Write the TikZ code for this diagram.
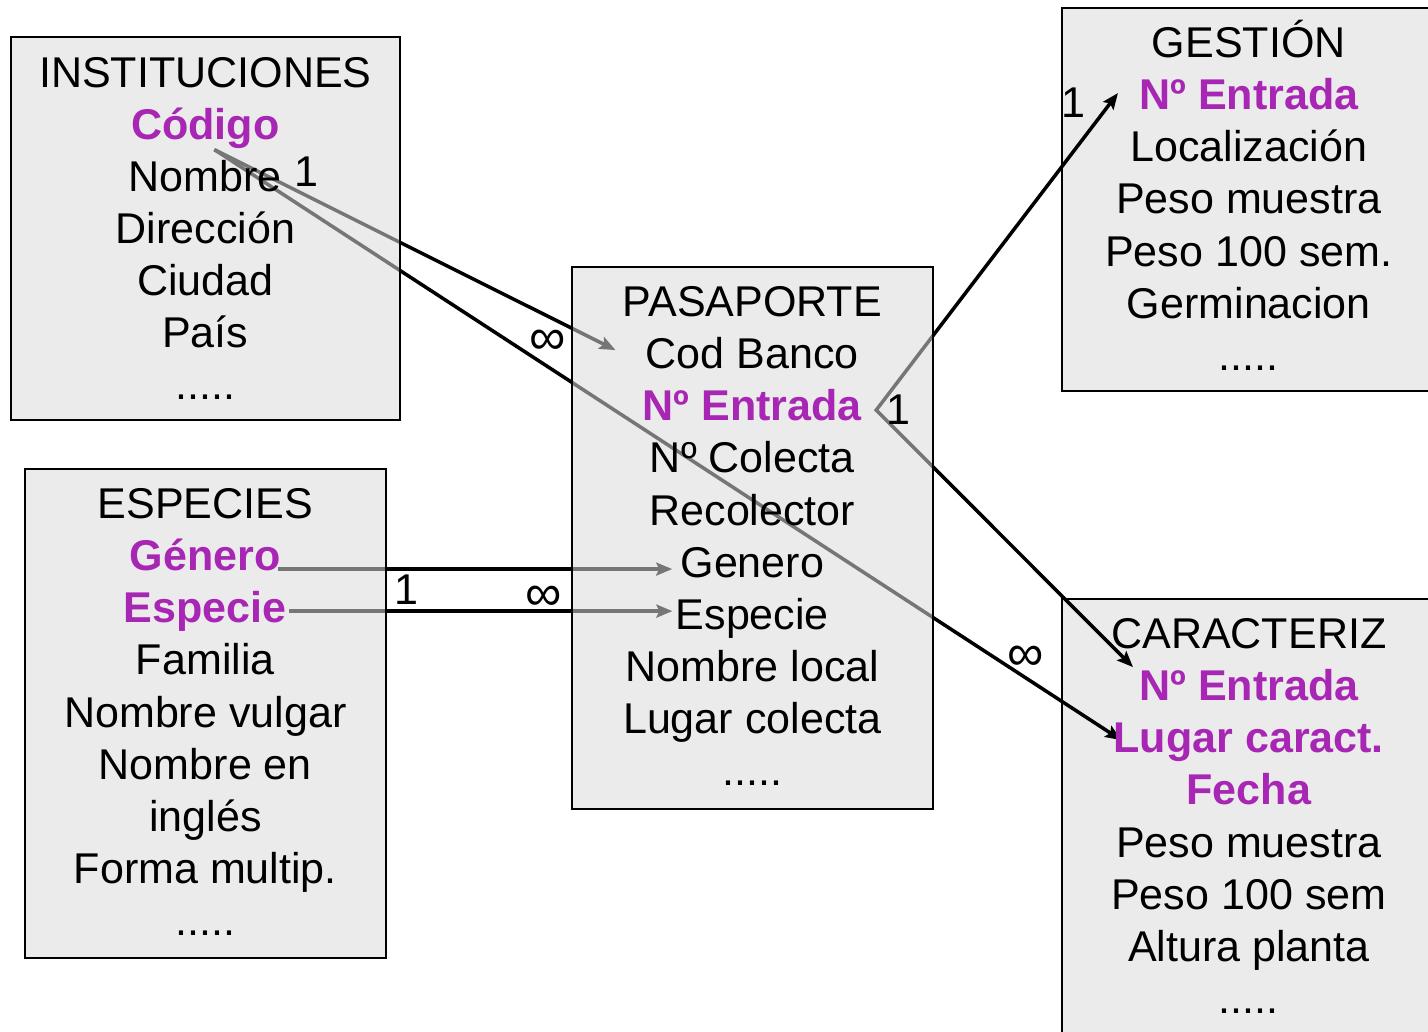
\documentclass[tikz,border=0pt]{standalone}
\usepackage{fontspec}
\setmainfont{Liberation Sans}
\usetikzlibrary{arrows.meta, positioning, calc}
\definecolor{keypurple}{RGB}{168,38,180}
\definecolor{boxgray}{RGB}{218,218,218}
\definecolor{solidgray}{RGB}{235,235,235}
\pgfdeclarelayer{back}
\pgfdeclarelayer{lines}
\pgfsetlayers{back,lines,main}
\tikzset{%
	table box/.style={
		draw,
		line width=1pt,
		fill=boxgray,
		fill opacity=0.545,
		anchor=north west,
		inner sep=0pt
	},
	side box/.style={
		draw,
		line width=1pt,
		fill=solidgray,
		anchor=north west,
		inner sep=0pt
	},
	row/.style={
		inner sep=0pt,
		text height=0.83cm,
		text depth=0.197cm,
		font=\fontsize{24.5pt}{29pt}\selectfont
	},
	key/.style={
		row,
		text=keypurple,
		font=\fontsize{24.5pt}{29pt}\selectfont\bfseries
	},
	count/.style={
		inner sep=0pt,
		font=\fontsize{24.5pt}{29pt}\selectfont
	},
	many/.style={
		inner sep=0pt,
		font=\fontsize{29pt}{32pt}\selectfont
	},
	link/.style={line width=2pt},
	>={Stealth[length=0.32cm,width=0.26cm,inset=0.06cm]}
}

\begin{document}
\begin{tikzpicture}[x=0.02cm, y=-0.02cm]
			\useasboundingbox (0,0) rectangle (1428,1032);
			
			% Tables on the right, the links run over them
			\begin{pgfonlayer}{back}
				\node[side box, minimum width=7.48cm, minimum height=7.66cm] (gest) at (1061,7) {};
				\node[side box, minimum width=7.48cm, minimum height=10cm] (car) at (1061,598) {};
			\end{pgfonlayer}
			
			% Tables on the left, the links show through them
			\node[table box, minimum width=7.78cm, minimum height=7.66cm] (inst) at (10,36) {};
			\node[table box, minimum width=7.22cm, minimum height=9.78cm] (esp) at (24,468) {};
			\node[table box, minimum width=7.22cm, minimum height=10.84cm] (pas) at (571,266) {};
			
			% INSTITUCIONES
			\node[row, below=0.19cm of inst.north] (inst0) {INSTITUCIONES};
			\node[key, below=0pt of inst0] (codigo) {Código};
			\node[row, below=0pt of codigo] (inst2) {Nombre};
			\node[row, below=0pt of inst2] (inst3) {Dirección};
			\node[row, below=0pt of inst3] (inst4) {Ciudad};
			\node[row, below=0pt of inst4] (inst5) {País};
			\node[row, below=0pt of inst5] (inst6) {.....};
			
			% ESPECIES
			\node[row, below=0.18cm of esp.north] (esp0) {ESPECIES};
			\node[key, below=0pt of esp0] (genesp) {Género};
			\node[key, below=0pt of genesp] (spesp) {Especie};
			\node[row, below=0pt of spesp] (esp3) {Familia};
			\node[row, below=0pt of esp3] (esp4) {Nombre vulgar};
			\node[row, below=0pt of esp4] (esp5) {Nombre en};
			\node[row, below=0pt of esp5] (esp6) {inglés};
			\node[row, below=0pt of esp6] (esp7) {Forma multip.};
			\node[row, below=0pt of esp7] (esp8) {.....};
			
			% PASAPORTE
			\node[row, below=0.18cm of pas.north] (pas0) {PASAPORTE};
			\node[row, below=0pt of pas0] (codbanco) {Cod Banco};
			\node[key, below=0pt of codbanco] (entpas) {Nº Entrada};
			\node[row, below=0pt of entpas] (pas3) {Nº Colecta};
			\node[row, below=0pt of pas3] (pas4) {Recolector};
			\node[row, below=0pt of pas4] (genpas) {Genero};
			\node[row, below=0pt of genpas] (sppas) {Especie};
			\node[row, below=0pt of sppas] (pas7) {Nombre local};
			\node[row, below=0pt of pas7] (pas8) {Lugar colecta};
			\node[row, below=0pt of pas8] (pas9) {.....};
			
			% GESTIÓN
			\node[row, below=0.18cm of gest.north] (gest0) {GESTIÓN};
			\node[key, below=0pt of gest0] (entgest) {Nº Entrada};
			\node[row, below=0pt of entgest] (gest2) {Localización};
			\node[row, below=0pt of gest2] (gest3) {Peso muestra};
			\node[row, below=0pt of gest3] (gest4) {Peso 100 sem.};
			\node[row, below=0pt of gest4] (gest5) {Germinacion};
			\node[row, below=0pt of gest5] (gest6) {.....};
			
			% CARACTERIZ
			\node[row, below=0.18cm of car.north] (car0) {CARACTERIZ};
			\node[key, below=0pt of car0] (entcar) {Nº Entrada};
			\node[key, below=0pt of entcar] (lugar) {Lugar caract.};
			\node[key, below=0pt of lugar] (fecha) {Fecha};
			\node[row, below=0pt of fecha] (car4) {Peso muestra};
			\node[row, below=0pt of car4] (car5) {Peso 100 sem};
			\node[row, below=0pt of car5] (car6) {Altura planta};
			\node[row, below=0pt of car6] (car7) {.....};
			
			% Link ends
			\coordinate (codsrc) at ($(codigo.south)+(9,0)$);
			\coordinate (codtip) at ($(codbanco.west)+(-30,-3)$);
			\coordinate (lugtip) at ($(lugar.west)+(8,3)$);
			\coordinate (entvertex) at ($(entpas.east)+(14,5)$);
			\coordinate (gesttip) at ($(entgest.west)+(-21,-1)$);
			\coordinate (cartip) at ($(entcar.west)+(-6,-18)$);
			\coordinate (gensrc) at ($(genesp.east)+(-3,14)$);
			\coordinate (gentip) at ($(gensrc -| genpas.west)+(-8,0)$);
			\coordinate (spsrc) at ($(spesp.east)+(2,4)$);
			\coordinate (sptip) at ($(spsrc -| sppas.west)+(-3,0)$);
			
			% Links
			\begin{pgfonlayer}{lines}
				\draw[link, ->] (codsrc) -- (codtip);
				\draw[link, ->] (codsrc) -- (lugtip);
				\draw[link, <->] (gesttip) -- (entvertex) -- (cartip);
				\draw[link, ->] (gensrc) -- (gentip);
				\draw[link, ->] (spsrc) -- (sptip);
			\end{pgfonlayer}
			
			% Cardinalities
			\path (codsrc) -- (codtip)
				node[count, pos=0.23, above=5pt] (n1) {1}
				node[many, pos=0.83, below=8pt] (m1) {∞};
			\path (codsrc) -- (lugtip)
				node[many, pos=0.894, above=0.14cm] (m2) {∞};
			\node[count, right=0.2cm of entvertex] (n3) {1};
			\path (gesttip) -- (entvertex)
				node[count, pos=0.03, left=0.5cm] (n4) {1};
			\path (gensrc) -- (gentip)
				node[count, pos=0.327, below=3pt] (n5) {1};
			\path (spsrc) -- (sptip)
				node[many, pos=0.663, above=0pt] (m5) {∞};
		\end{tikzpicture}
\end{document}
